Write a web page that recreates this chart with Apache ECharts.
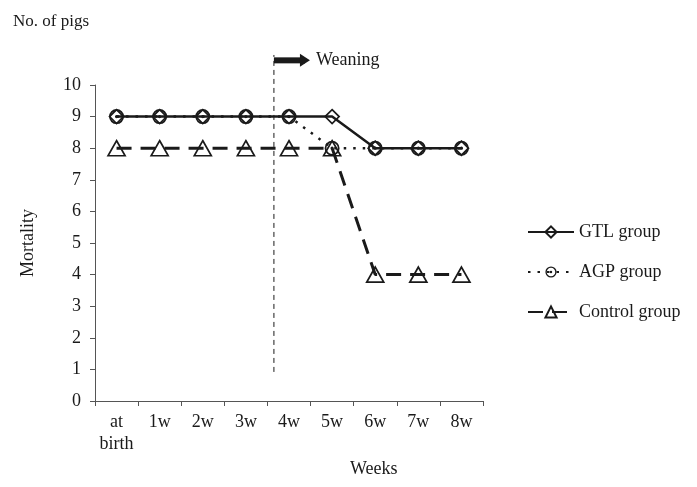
<!DOCTYPE html>
<html>
<head>
<meta charset="utf-8">
<script src="https://cdn.jsdelivr.net/npm/echarts@6/dist/echarts.min.js"></script>
<style>html,body{margin:0;padding:0;background:#fff;}#c{width:697px;height:487px;}</style>
</head>
<body>
<div id="c"></div>
<script>
const categories = ['at\nbirth', '1w', '2w', '3w', '4w', '5w', '6w', '7w', '8w'];
const gtl = [9, 9, 9, 9, 9, 9, 8, 8, 8];
const agp = [9, 9, 9, 9, 9, 8, 8, 8, 8];
const control = [8, 8, 8, 8, 8, 8, 4, 4, 4];
const yTicks = [0, 1, 2, 3, 4, 5, 6, 7, 8, 9, 10];
const weaningAt = 3.65;          // position between 3w and 4w (category index)
const weaningLine = [0.92, 10.95];
const weaningArrow = { y: 10.78, end: 4.37, label: 'Weaning' };

const FONT = '"Liberation Serif", "Times New Roman", serif';
const INK = '#1a1a1a';
const agpSymbol = 'path://M0,-10 A10,10 0 1,1 0,10 A10,10 0 1,1 0,-10 Z M0,-7.6 A7.6,7.6 0 1,0 0,7.6 A7.6,7.6 0 1,0 0,-7.6 Z M0,-2.2 A2.2,2.2 0 1,1 0,2.2 A2.2,2.2 0 1,1 0,-2.2 Z';

const chart = echarts.init(document.getElementById('c'));
chart.setOption({
  animation: false,
  backgroundColor: '#fff',
  textStyle: { fontFamily: FONT, color: INK },
  title: [
    { text: 'No. of pigs', left: 8, top: 8, textStyle: { fontFamily: FONT, fontSize: 17, fontWeight: 'normal', color: INK } },
    { text: 'Weeks', left: 345, top: 455, textStyle: { fontFamily: FONT, fontSize: 18, fontWeight: 'normal', color: INK } }
  ],
  grid: { left: 95, right: 214, top: 85, bottom: 86, containLabel: false },
  legend: {
    data: ['GTL group', 'AGP group', 'Control group'],
    orient: 'vertical',
    left: 522, top: 218,
    itemWidth: 46, itemHeight: 14, itemGap: 22,
    textStyle: { fontFamily: FONT, fontSize: 18, color: INK }
  },
  xAxis: [
    {
      type: 'category', data: categories, boundaryGap: true,
      axisLine: { lineStyle: { color: '#555', width: 1 } },
      axisTick: { show: true, interval: 0, length: 5, lineStyle: { color: '#555' } },
      axisLabel: { interval: 0, fontFamily: FONT, fontSize: 18, color: INK, margin: 10, lineHeight: 22 },
      splitLine: { show: false }
    },
    { type: 'value', min: -0.5, max: 8.5, show: false, gridIndex: 0 }
  ],
  yAxis: {
    type: 'value', min: 0, max: 10, interval: 1,
    name: 'Mortality', nameLocation: 'middle', nameGap: 58, nameRotate: 90,
    nameTextStyle: { fontFamily: FONT, fontSize: 18, color: INK },
    axisLine: { show: true, onZero: false, lineStyle: { color: '#555', width: 1 } },
    axisTick: { show: true, length: 5, lineStyle: { color: '#555' } },
    axisLabel: { fontFamily: FONT, fontSize: 18, color: INK, margin: 14, formatter: v => yTicks.includes(v) ? String(v) : '' },
    splitLine: { show: false }
  },
  series: [
    {
      name: 'Control group', type: 'line', data: control,
      symbol: 'triangle', symbolSize: [17, 15],
      lineStyle: { color: INK, width: 3, type: [15, 9] },
      itemStyle: { color: 'rgba(255,255,255,0)', borderWidth: 1.7, borderColor: INK },
      z: 2
    },
    {
      name: 'GTL group', type: 'line', data: gtl,
      symbol: 'diamond', symbolSize: 14,
      lineStyle: { color: INK, width: 2.5, type: 'solid' },
      itemStyle: { color: 'rgba(255,255,255,0)', borderWidth: 1.7, borderColor: INK },
      z: 3
    },
    {
      name: 'AGP group', type: 'line', data: agp,
      symbol: agpSymbol, symbolSize: 15,
      lineStyle: { color: INK, width: 2.5, type: [2.5, 7] },
      itemStyle: { color: INK },
      z: 4
    },
    {
      type: 'line', xAxisIndex: 1, yAxisIndex: 0, clip: false, silent: true,
      data: [[weaningAt, weaningLine[0]], [weaningAt, weaningLine[1]]],
      symbol: 'none',
      lineStyle: { color: INK, width: 1, type: [5, 4] },
      z: 1
    },
    {
      type: 'line', xAxisIndex: 1, yAxisIndex: 0, clip: false, silent: true,
      data: [
        { value: [weaningAt, weaningArrow.y], symbol: 'none' },
        { value: [weaningArrow.end, weaningArrow.y], symbol: 'triangle', symbolRotate: -90, symbolSize: [13, 10],
          label: { show: true, position: 'right', distance: 6, formatter: weaningArrow.label, fontFamily: FONT, fontSize: 18, color: INK } }
      ],
      lineStyle: { color: INK, width: 6 },
      itemStyle: { color: INK },
      z: 5
    }
  ]
});
</script>
</body>
</html>
